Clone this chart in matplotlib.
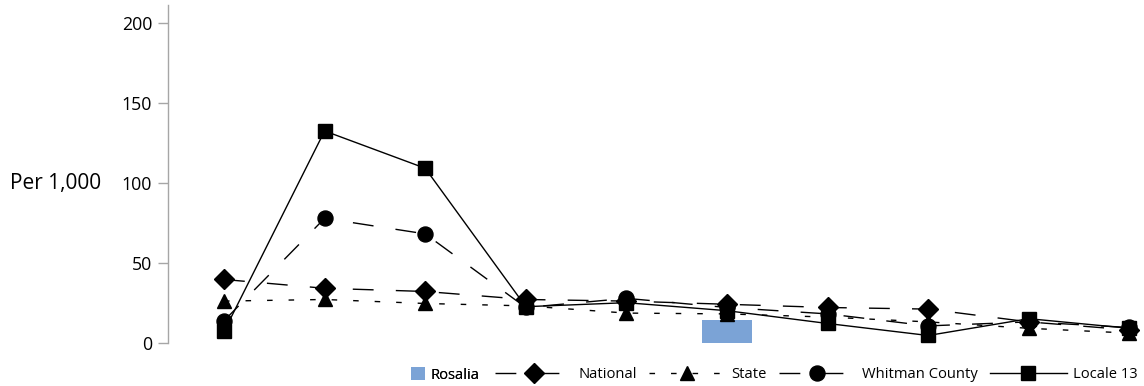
import numpy as np
import matplotlib
matplotlib.use("Agg")
import matplotlib.pyplot as plt
from matplotlib.lines import Line2D
from matplotlib.patches import Patch

plt.rcParams['font.family'] = ['Open Sans', 'DejaVu Sans']

# ---- data ----
series_names = ["Rosalia", "National", "State", "Whitman County", "Locale 13"]
rosalia  = [np.nan, np.nan, np.nan, np.nan, np.nan, 14, np.nan, np.nan, np.nan, np.nan]
national = [39.5, 34, 32, 27, 26, 24, 22, 21, 13, 8]
state    = [26, 27, 24.5, 23, 18.5, 18, 16, 13, 9, 6]
whitman  = [13.7, 77.7, 68, 22, 27.7, 22, 18, 10.5, 13, 9.5]
locale   = [7, 132.3, 109, 22.5, 25, 20, 12, 4.5, 15, 9]
y_ticks  = [0, 50, 100, 150, 200]
y_label  = "Per 1,000"

W, H = 1144, 386
fig = plt.figure(figsize=(W / 100, H / 100), dpi=100)
ax_left, ax_right = 167.7, 1144
ax_top, ax_bot = 5, 342.7
ax = fig.add_axes([ax_left / W, 1 - ax_bot / H, (ax_right - ax_left) / W, (ax_bot - ax_top) / H])

x = np.arange(len(national))
ax.bar(x, rosalia, width=0.5, color='#7BA3D6', zorder=1)

lw = 1.0
ax.plot(x, national, color='black', lw=lw, dashes=(15, 16), marker='D', markersize=9.8, zorder=3, clip_on=False)
ax.plot(x, state, color='black', lw=lw, dashes=(4, 11.5), marker='^', markersize=10, zorder=4, clip_on=False)
ax.plot(x, locale, color='black', lw=lw, marker='s', markersize=10, zorder=5, clip_on=False)
ax.plot(x, whitman, color='black', lw=lw, dashes=(15, 16), marker='o', markersize=10.8, zorder=6, clip_on=False)

ax.set_xlim(-0.5597, 9.145)
ax.set_ylim(0, 211)
ax.set_yticks(y_ticks)
ax.set_xticks([])
for s in ['top', 'right', 'bottom']:
    ax.spines[s].set_visible(False)
ax.spines['left'].set_color('#A6A6A6')
ax.spines['left'].set_linewidth(1.0)
ax.tick_params(axis='y', direction='out', length=7, width=1.0, color='#A6A6A6',
               pad=4.3, labelsize=12.8, labelcolor='black')

fig.text(10 / W, 1 - 184 / H, y_label, fontsize=15, va='center', ha='left')

# legends
fs = 10.6
fpx = fs * 100 / 72
leg_y = 1 - 375 / H
leg1 = fig.legend([Patch(facecolor='#7BA3D6', edgecolor='none')], [series_names[0]],
                  loc='center left', bbox_to_anchor=(411 / W, leg_y), frameon=False,
                  fontsize=fs, handlelength=14 / fpx, handleheight=14 / fpx, handletextpad=6 / fpx,
                  borderpad=0, borderaxespad=0)
handles = [
    Line2D([], [], color='black', lw=lw, dashes=(15, 16), marker='D', markersize=9.8),
    Line2D([], [], color='black', lw=lw, dashes=(4, 11.5), marker='^', markersize=10),
    Line2D([], [], color='black', lw=lw, dashes=(15, 16), marker='o', markersize=10.8),
    Line2D([], [], color='black', lw=lw, marker='s', markersize=10),
]
leg2 = fig.legend(handles, series_names[1:], loc='center left', bbox_to_anchor=(495 / W, leg_y),
                  ncol=4, frameon=False, fontsize=fs, handlelength=77 / fpx, handletextpad=6 / fpx,
                  columnspacing=12 / fpx, borderpad=0, borderaxespad=0)
fig.add_artist(leg1)

fig.savefig('out.png', dpi=100)
